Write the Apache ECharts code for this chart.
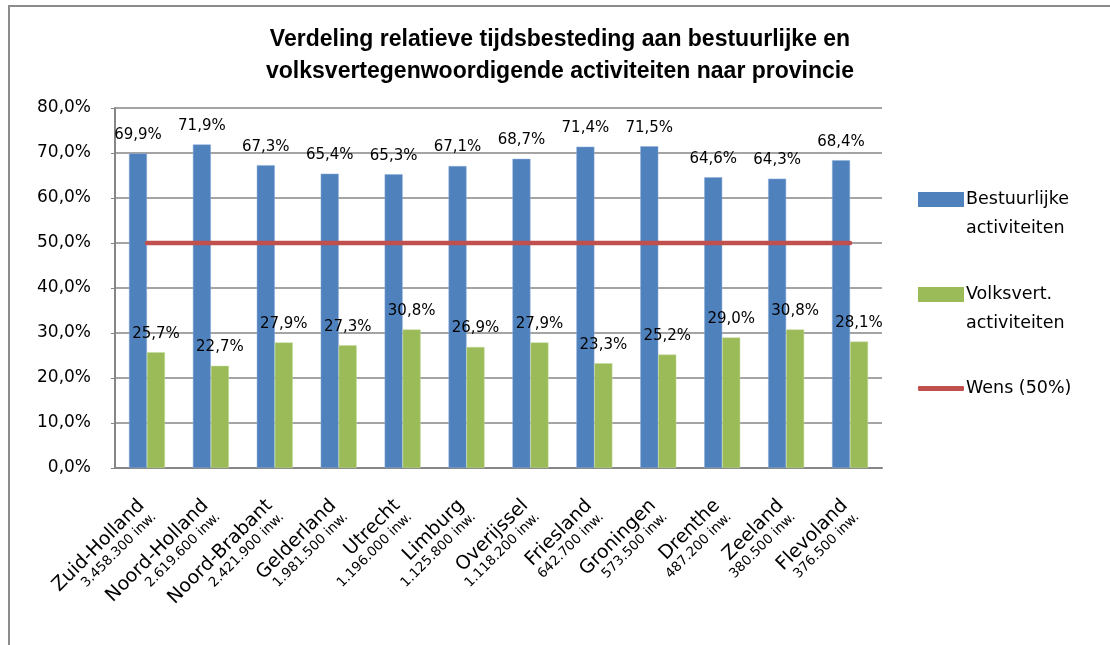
<!DOCTYPE html>
<html>
<head>
<meta charset="utf-8">
<script src="https://cdn.jsdelivr.net/npm/echarts@6/dist/echarts.min.js"></script>
<style>html,body{margin:0;padding:0;background:#fff}#c{width:1110px;height:645px}</style>
</head>
<body>
<div id="c"></div>
<script>
const provinces = ['Zuid-Holland','Noord-Holland','Noord-Brabant','Gelderland','Utrecht','Limburg','Overijssel','Friesland','Groningen','Drenthe','Zeeland','Flevoland'];
const inhabitants = ['3.458.300 inw.','2.619.600 inw.','2.421.900 inw.','1.981.500 inw.','1.196.000 inw.','1.125.800 inw.','1.118.200 inw.','642.700 inw.','573.500 inw.','487.200 inw.','380.500 inw.','376.500 inw.'];
const bestuurlijk = [69.9, 71.9, 67.3, 65.4, 65.3, 67.1, 68.7, 71.4, 71.5, 64.6, 64.3, 68.4];
const volksvert = [25.7, 22.7, 27.9, 27.3, 30.8, 26.9, 27.9, 23.3, 25.2, 29.0, 30.8, 28.1];
const wens = [50, 50, 50, 50, 50, 50, 50, 50, 50, 50, 50, 50];
const seriesNames = ['Bestuurlijke activiteiten', 'Volksvert. activiteiten', 'Wens (50%)'];
const yTicks = [0, 10, 20, 30, 40, 50, 60, 70, 80];

const font = '"DejaVu Sans", "Liberation Sans", sans-serif';
const fmt = v => v.toFixed(1).replace('.', ',') + '%';
const categories = provinces.map((p, i) => p + '\n' + inhabitants[i]);

const chart = echarts.init(document.getElementById('c'), null, {renderer: 'canvas'});
const legendBase = {
  orient: 'vertical', left: 918, padding: 0, itemWidth: 46, itemHeight: 15, itemGap: 0,
  textStyle: {fontFamily: font, fontSize: 17.5, color: '#000', lineHeight: 29, padding: [0,0,0,-3]},
  selectedMode: false
};
chart.setOption({
  animation: false,
  backgroundColor: '#fff',
  graphic: [{
    type: 'rect', left: 6.5, top: 3.5, shape: {width: 1200, height: 700},
    style: {fill: 'none', stroke: '#8c8c8c', lineWidth: 2}, silent: true
  }],
  title: {
    text: 'Verdeling relatieve tijdsbesteding aan bestuurlijke en\nvolksvertegenwoordigende activiteiten naar provincie',
    left: 560, top: 24, textAlign: 'center', padding: 0,
    textStyle: {fontFamily: '"Liberation Sans", sans-serif', fontWeight: 'bold', fontSize: 23, lineHeight: 32, color: '#000'}
  },
  legend: [
    Object.assign({}, legendBase, {top: 156, data: [{name: seriesNames[0], icon: 'rect', itemStyle: {borderWidth: 0}}], formatter: () => '\nBestuurlijke\nactiviteiten'}),
    Object.assign({}, legendBase, {top: 251, data: [{name: seriesNames[1], icon: 'rect', itemStyle: {borderWidth: 0}}], formatter: () => '\nVolksvert.\nactiviteiten'}),
    Object.assign({}, legendBase, {top: 374, data: [{name: seriesNames[2], icon: 'roundRect', itemStyle: {color: '#C0504D'}}], itemHeight: 5, formatter: () => 'Wens (50%)'})
  ],
  grid: {left: 115, right: 228, top: 108, bottom: 177, containLabel: false},
  xAxis: {
    type: 'category', data: categories,
    axisLine: {lineStyle: {color: '#868686', width: 2}},
    axisTick: {show: false},
    axisLabel: {
      interval: 0, rotate: 45, margin: 40,
      formatter: v => { const [a, b] = v.split('\n'); return '{a|' + a + '}\n{b|' + b + '}'; },
      rich: {
        a: {fontFamily: font, fontSize: 19, color: '#000', lineHeight: 20, align: 'right'},
        b: {fontFamily: font, fontSize: 13.5, color: '#000', lineHeight: 15, align: 'right'}
      }
    }
  },
  yAxis: {
    type: 'value', min: 0, max: 80, interval: 10,
    axisLine: {show: true, lineStyle: {color: '#868686', width: 2}},
    axisTick: {show: true, length: 4, lineStyle: {color: '#868686'}},
    splitLine: {lineStyle: {color: '#868686', width: 1.5}},
    axisLabel: {fontFamily: font, fontSize: 17, color: '#000', margin: 24,
      formatter: v => yTicks.includes(v) ? fmt(v) : ''}
  },
  series: [
    {name: seriesNames[0], type: 'bar', data: bestuurlijk, barWidth: 18, barGap: '0%',
      itemStyle: {color: '#4F81BD', borderColor: '#8EAEDA', borderWidth: 0.5},
      label: {show: true, position: 'top', distance: 11, formatter: p => fmt(p.value), fontFamily: font, fontSize: 15, color: '#000'}},
    {name: seriesNames[1], type: 'bar', data: volksvert, barWidth: 18,
      itemStyle: {color: '#9BBB59', borderColor: '#C5DA9C', borderWidth: 0.5},
      label: {show: true, position: 'top', distance: 11, formatter: p => fmt(p.value), fontFamily: font, fontSize: 15, color: '#000'}},
    {name: seriesNames[2], type: 'line', data: wens, symbol: 'none', z: 5,
      lineStyle: {color: '#C0504D', width: 4.5, cap: 'round'}, itemStyle: {color: '#C0504D'}}
  ]
});
</script>
</body>
</html>
